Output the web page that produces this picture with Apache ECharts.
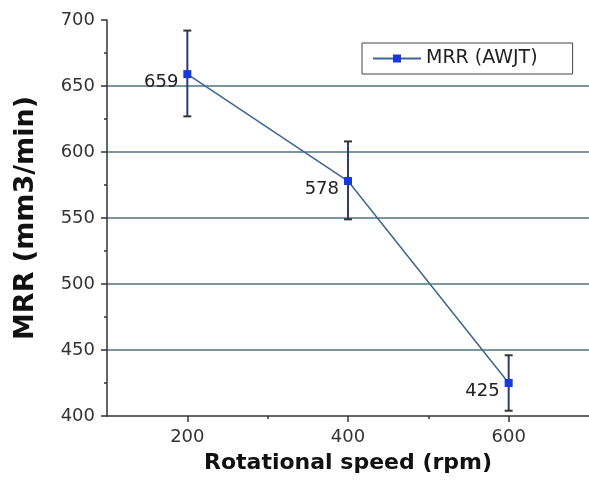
<!DOCTYPE html>
<html>
<head>
<meta charset="utf-8">
<script src="https://cdn.jsdelivr.net/npm/echarts@6/dist/echarts.min.js"></script>
<style>html,body{margin:0;padding:0;background:#fff}#c{width:589px;height:492px}</style>
</head>
<body>
<div id="c"></div>
<script>
const speeds = [200, 400, 600];
const mrr = [659, 578, 425];
const errLow = [627, 549, 404];
const errHigh = [692, 608, 446];
const xTickLabels = [200, 400, 600];
const xMinorTicks = [300, 500];
const seriesName = 'MRR (AWJT)';

const chart = echarts.init(document.getElementById('c'));
const F = 'DejaVu Sans';
const lineData = speeds.map((s, i) => [s, mrr[i]]);
const errData = speeds.map((s, i) => [s, errLow[i], errHigh[i]]);

chart.setOption({
  animation: false,
  backgroundColor: '#fff',
  grid: { left: 107, right: 0, top: 20, bottom: 76 },
  legend: {
    left: 362, top: 43,
    padding: [6, 35, 6, 10],
    borderColor: '#444', borderWidth: 1,
    itemWidth: 48, itemHeight: 10,
    textStyle: { fontFamily: F, fontSize: 19, color: '#222' },
    data: [seriesName]
  },
  xAxis: [{
    type: 'value', min: 100, max: 700, interval: 100,
    name: 'Rotational speed (rpm)', nameLocation: 'middle', nameGap: 36,
    nameTextStyle: { fontFamily: F, fontSize: 22, fontWeight: 'bold', color: '#111' },
    axisLine: { show: true, lineStyle: { color: '#333', width: 1.5 } },
    axisTick: { show: true, length: 6, customValues: xTickLabels, lineStyle: { color: '#333', width: 1.5 } },
    axisLabel: { customValues: xTickLabels, margin: 12, fontFamily: F, fontSize: 18, color: '#333' },
    splitLine: { show: false }
  }, {
    type: 'value', min: 100, max: 700, interval: 100, position: 'bottom',
    axisLine: { show: false },
    axisTick: { show: true, length: 3, customValues: xMinorTicks, lineStyle: { color: '#333', width: 1.5 } },
    axisLabel: { show: false },
    splitLine: { show: false }
  }],
  yAxis: {
    type: 'value', min: 400, max: 700, interval: 50,
    name: 'MRR (mm3/min)', nameLocation: 'middle', nameGap: 68, nameRotate: 90,
    nameTextStyle: { fontFamily: F, fontSize: 27, fontWeight: 'bold', color: '#111' },
    axisLine: { show: true, lineStyle: { color: '#333', width: 1.5 } },
    axisTick: { show: true, length: 6, lineStyle: { color: '#333', width: 1.5 } },
    minorTick: { show: true, splitNumber: 2, length: 3, lineStyle: { color: '#333', width: 1.5 } },
    axisLabel: { margin: 12, fontFamily: F, fontSize: 18, color: '#333' },
    splitLine: { show: true, showMinLine: false, showMaxLine: false, lineStyle: { color: '#4f7582', width: 1.5 } }
  },
  series: [{
    name: seriesName,
    type: 'line',
    data: lineData,
    symbol: 'rect', symbolSize: 8,
    lineStyle: { color: '#3d6690', width: 1.5 },
    itemStyle: { color: '#1638e0' },
    label: {
      show: true, position: 'left', distance: 5, offset: [0, 8],
      fontFamily: F, fontSize: 18, color: '#222',
      formatter: p => p.value[1]
    },
    z: 3
  }, {
    type: 'custom',
    data: errData,
    renderItem: function (params, api) {
      const x = api.value(0);
      const lo = api.coord([x, api.value(1)]);
      const hi = api.coord([x, api.value(2)]);
      const c = '#2c3a7a', w = 4;
      return {
        type: 'group',
        children: [
          { type: 'line', shape: { x1: lo[0], y1: lo[1], x2: hi[0], y2: hi[1] }, style: { stroke: c, lineWidth: 2 } },
          { type: 'line', shape: { x1: lo[0] - w, y1: lo[1], x2: lo[0] + w, y2: lo[1] }, style: { stroke: '#333', lineWidth: 2 } },
          { type: 'line', shape: { x1: hi[0] - w, y1: hi[1], x2: hi[0] + w, y2: hi[1] }, style: { stroke: '#333', lineWidth: 2 } }
        ]
      };
    },
    z: 2
  }]
});
</script>
</body>
</html>
